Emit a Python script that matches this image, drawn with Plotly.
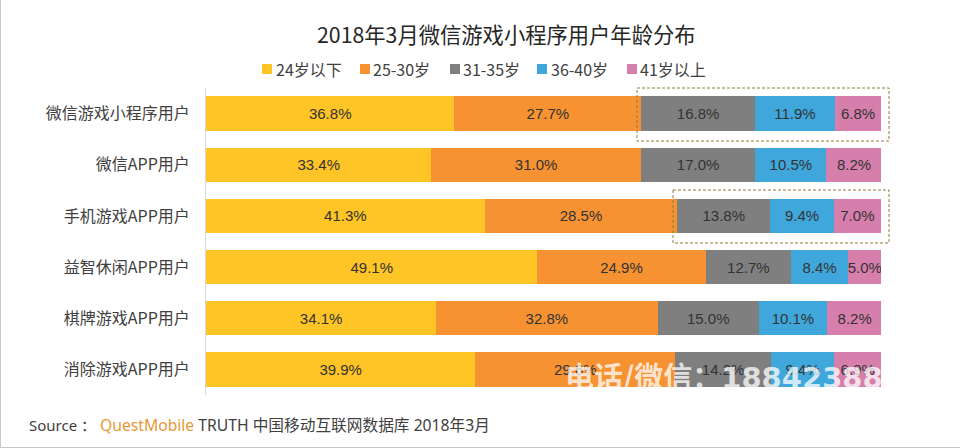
import plotly.graph_objects as go

W, H = 960, 448

# Row names, top to bottom
categories = ["微信游戏小程序用户", "微信APP用户", "手机游戏APP用户", "益智休闲APP用户", "棋牌游戏APP用户", "消除游戏APP用户"]

age_groups = ["24岁以下", "25-30岁", "31-35岁", "36-40岁", "41岁以上"]
under_24 = [36.8, 33.4, 41.3, 49.1, 34.1, 39.9]
age_25_30 = [27.7, 31.0, 28.5, 24.9, 32.8, 29.6]
age_31_35 = [16.8, 17.0, 13.8, 12.7, 15.0, 14.2]
age_36_40 = [11.9, 10.5, 9.4, 8.4, 10.1, 9.4]
over_41 = [6.8, 8.2, 7.0, 5.0, 8.2, 6.9]

series = [under_24, age_25_30, age_31_35, age_36_40, over_41]
colors = ["#FFC425", "#F79232", "#7F7F7F", "#3FA7DB", "#D67FAC"]

CJK = "Noto Sans CJK SC"
LATIN = "Liberation Sans"


def px_x(x):
    return x / W


def px_y(y):
    return 1 - y / H


fig = go.Figure()

for name, values, color in zip(age_groups, series, colors):
    fig.add_trace(go.Bar(
        y=categories,
        x=values,
        name=name,
        orientation="h",
        marker=dict(color=color, line=dict(width=0)),
        text=[f"{v:.1f}%" for v in values],
        textposition="inside",
        insidetextanchor="middle",
        textangle=0,
        textfont=dict(family=LATIN, size=15, color="#333333"),
        constraintext="none",
    ))

# Dashed highlight boxes around the older age groups
shapes = []
for x0, x1, y0, y1 in [(637, 889, 88, 141), (673, 889, 190, 243)]:
    shapes.append(dict(
        type="rect", xref="paper", yref="paper",
        x0=px_x(x0), x1=px_x(x1), y0=px_y(y0), y1=px_y(y1),
        line=dict(color="#8F7D3F", width=1, dash="3px,2px"),
        layer="above",
    ))

# Thin frame of the screenshot, left and bottom
shapes.append(dict(type="line", xref="paper", yref="paper", x0=0, x1=0, y0=0, y1=1,
                   line=dict(color="#C8C8C8", width=2)))
shapes.append(dict(type="line", xref="paper", yref="paper", x0=0, x1=1, y0=0, y1=0,
                   line=dict(color="#C8C8C8", width=2)))

annotations = [
    dict(text="2018年3月微信游戏小程序用户年龄分布", x=px_x(506), y=px_y(33),
         xref="paper", yref="paper", showarrow=False, xanchor="center", yanchor="middle",
         font=dict(family=CJK, size=21.3, color="#262626")),
    dict(text='<span style="font-size:15px">Source ： </span><span style="color:#E59A35">QuestMobile</span> TRUTH 中国移动互联网数据库 2018年3月',
         x=px_x(27), y=px_y(425), xref="paper", yref="paper", showarrow=False,
         xanchor="left", yanchor="middle",
         font=dict(family="Noto Sans, " + CJK, size=15.7, color="#404040")),
    # Watermark that runs across the last row and off the right edge
    dict(text='<b>电话/微信：<span style="font-family:DejaVu Sans">18842388</span></b>',
         x=px_x(563), y=px_y(375), xref="paper", yref="paper",
         showarrow=False, xanchor="left", yanchor="middle",
         font=dict(family=CJK, size=29, color="rgba(255,255,255,0.75)")),
]

# Legend row, placed by hand so swatch and label sit as tight as in the source
legend_swatch_x = [262, 360, 450, 537, 627]
legend_text_x = [274, 371, 461, 549, 638]
for name, color, sx, tx in zip(age_groups, colors, legend_swatch_x, legend_text_x):
    shapes.append(dict(
        type="rect", xref="paper", yref="paper",
        x0=px_x(sx), x1=px_x(sx + 10), y0=px_y(64), y1=px_y(74),
        fillcolor=color, line=dict(width=0),
    ))
    annotations.append(dict(
        text=name, x=px_x(tx), y=px_y(69), xref="paper", yref="paper",
        showarrow=False, xanchor="left", yanchor="middle",
        font=dict(family=CJK, size=16, color="#404040"),
    ))

fig.update_layout(
    width=W,
    height=H,
    autosize=False,
    margin=dict(l=0, r=0, t=0, b=0),
    barmode="stack",
    bargap=0.33,
    paper_bgcolor="white",
    plot_bgcolor="white",
    showlegend=False,
    xaxis=dict(
        domain=[px_x(206), px_x(881)],
        range=[0, 100],
        visible=False,
    ),
    yaxis=dict(
        domain=[px_y(395), px_y(88)],
        categoryorder="array",
        categoryarray=categories[::-1],
        showgrid=False,
        zeroline=False,
        showline=True,
        linecolor="#D9D9D9",
        linewidth=1,
        ticks="outside",
        ticklen=12,
        tickcolor="rgba(0,0,0,0)",
        tickfont=dict(family=CJK, size=16, color="#404040"),
    ),
    shapes=shapes,
    annotations=annotations,
)

fig.write_html("out.html", config=dict(displayModeBar=False),
               post_script="document.body.style.margin='0';")
